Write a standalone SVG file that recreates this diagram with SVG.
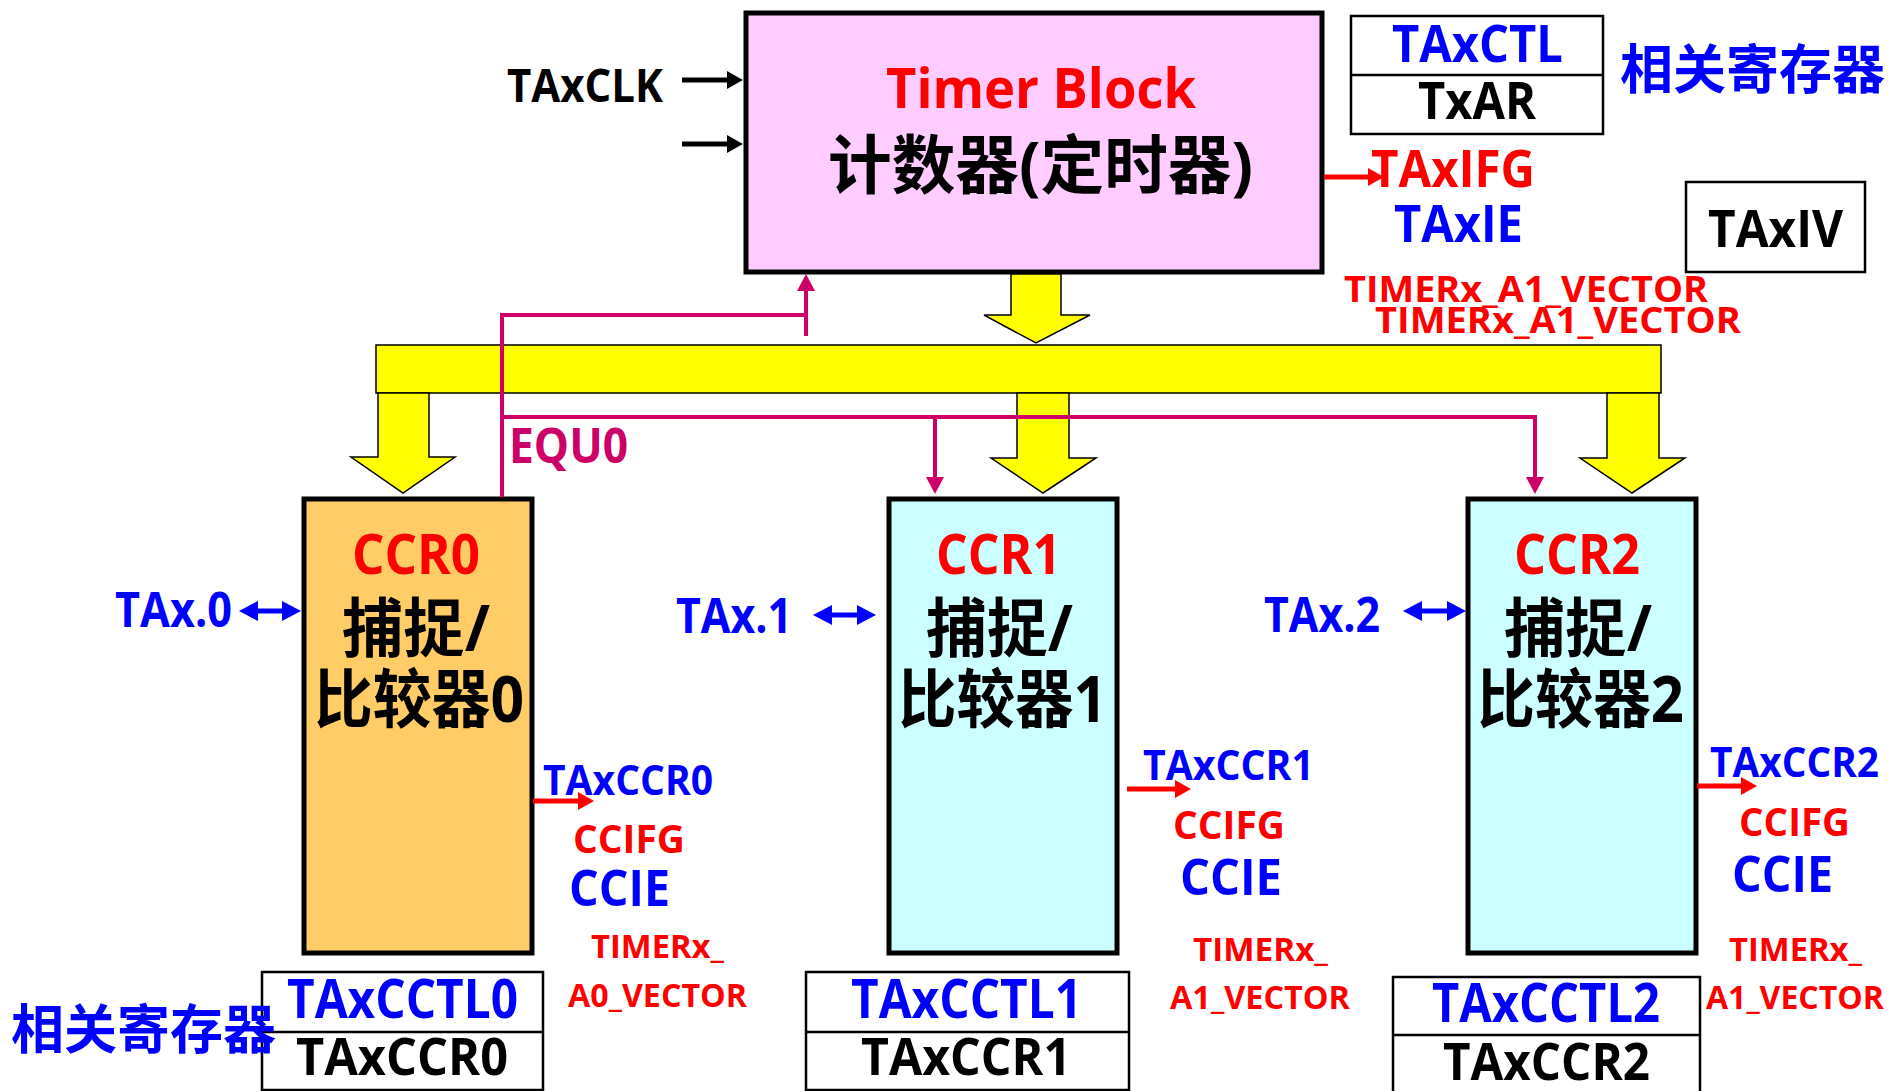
<svg xmlns="http://www.w3.org/2000/svg" width="1897" height="1091" viewBox="0 0 1897 1091">
<style>
text{font-family:"Open Sans","Noto Sans CJK SC",sans-serif;font-weight:700}
.cjk{font-family:"Noto Sans CJK SC",sans-serif}
.r{fill:#FF0000}.b{fill:#0000FF}.k{fill:#000000}.m{fill:#CC0066}
.box{stroke:#000;stroke-width:5}
.reg{fill:#fff;stroke:#000;stroke-width:2.5}
.ya{fill:#FFFF00;stroke:#000;stroke-width:1.5}
.ak{stroke:#000;stroke-width:5;fill:none}
.ar{stroke:#FF0000;stroke-width:5;fill:none}
.ab{stroke:#0000FF;stroke-width:5;fill:none}
.am{stroke:#CC0066;stroke-width:4;fill:none}
</style>
<defs>
<marker id="mk" markerUnits="userSpaceOnUse" markerWidth="16" markerHeight="18" refX="0" refY="9" orient="auto"><path d="M0,0 L16,9 L0,18 z" fill="#000"/></marker>
<marker id="mr" markerUnits="userSpaceOnUse" markerWidth="16" markerHeight="18" refX="0" refY="9" orient="auto"><path d="M0,0 L16,9 L0,18 z" fill="#FF0000"/></marker>
<marker id="mb" markerUnits="userSpaceOnUse" markerWidth="19" markerHeight="20" refX="0" refY="10" orient="auto-start-reverse"><path d="M0,0 L19,10 L0,20 z" fill="#0000FF"/></marker>
<marker id="mm" markerUnits="userSpaceOnUse" markerWidth="17" markerHeight="18" refX="0" refY="9" orient="auto"><path d="M0,0 L17,9 L0,18 z" fill="#CC0066"/></marker>
</defs>

<g id="bus">
<rect class="ya" x="376" y="345" width="1285" height="48" stroke-width="2"/>
</g>

<g id="timer-block">
<rect class="box" x="746" y="13" width="576" height="259" fill="#FFCCFF"/>
<text class="r" x="886" y="108" font-size="56" textLength="310" lengthAdjust="spacingAndGlyphs">Timer Block</text>
<text class="k" x="828" y="188" font-size="64" font-weight="500" textLength="425" lengthAdjust="spacingAndGlyphs">计数器(定时器)</text>
</g>

<g id="clk">
<text class="k" x="507" y="102" font-size="46" textLength="156" lengthAdjust="spacingAndGlyphs">TAxCLK</text>
</g>

<g id="taxctl">
<rect class="reg" x="1351" y="16" width="252" height="118"/>
<line x1="1351" y1="75" x2="1603" y2="75" stroke="#000" stroke-width="2.5"/>
<text class="b" x="1392" y="62" font-size="52" textLength="171" lengthAdjust="spacingAndGlyphs">TAxCTL</text>
<text class="k" x="1418" y="119" font-size="52" textLength="118" lengthAdjust="spacingAndGlyphs">TxAR</text>
<text class="b cjk" x="1620" y="89" font-size="53" font-weight="400" textLength="265" lengthAdjust="spacingAndGlyphs">相关寄存器</text>
</g>

<g id="taxifg">
<text class="r" x="1371" y="187" font-size="52" textLength="164" lengthAdjust="spacingAndGlyphs">TAxIFG</text>
<text class="b" x="1394" y="242" font-size="52" textLength="129" lengthAdjust="spacingAndGlyphs">TAxIE</text>
<text class="r" x="1344" y="302" font-size="36" textLength="364" lengthAdjust="spacingAndGlyphs">TIMERx_A1_VECTOR</text>
<text class="r" x="1375" y="333" font-size="36" textLength="366" lengthAdjust="spacingAndGlyphs">TIMERx_A1_VECTOR</text>
</g>

<g id="taxiv">
<rect x="1686" y="182" width="179" height="90" fill="#fff" stroke="#000" stroke-width="2.5"/>
<text class="k" x="1708" y="247" font-size="52" textLength="135" lengthAdjust="spacingAndGlyphs">TAxIV</text>
</g>

<g id="ccr0">
<rect class="box" x="304" y="499" width="228" height="454" fill="#FFCC66"/>
<text class="r" x="352" y="574" font-size="55" textLength="128" lengthAdjust="spacingAndGlyphs">CCR0</text>
<text class="k" x="342" y="651" font-size="64" font-weight="500" textLength="148" lengthAdjust="spacingAndGlyphs">捕捉/</text>
<text class="k" x="314" y="722" font-size="64" font-weight="500" textLength="210" lengthAdjust="spacingAndGlyphs">比较器0</text>
<text class="b" x="115" y="627" font-size="48" textLength="117" lengthAdjust="spacingAndGlyphs">TAx.0</text>
<text class="b" x="543" y="795" font-size="42" textLength="170" lengthAdjust="spacingAndGlyphs">TAxCCR0</text>
<text class="r" x="573" y="853" font-size="40" textLength="112" lengthAdjust="spacingAndGlyphs">CCIFG</text>
<text class="b" x="569" y="906" font-size="50" textLength="101" lengthAdjust="spacingAndGlyphs">CCIE</text>
<text class="r" x="591" y="958" font-size="32" textLength="133" lengthAdjust="spacingAndGlyphs">TIMERx_</text>
<text class="r" x="568" y="1007" font-size="32" textLength="179" lengthAdjust="spacingAndGlyphs">A0_VECTOR</text>
</g>

<g id="reg0">
<rect class="reg" x="262" y="972" width="281" height="118"/>
<line x1="262" y1="1032" x2="543" y2="1032" stroke="#000" stroke-width="2.5"/>
<text class="b" x="287" y="1018" font-size="53" textLength="231" lengthAdjust="spacingAndGlyphs">TAxCCTL0</text>
<text class="k" x="296" y="1075" font-size="52" textLength="212" lengthAdjust="spacingAndGlyphs">TAxCCR0</text>
<text class="b cjk" x="11" y="1049" font-size="53" font-weight="400" textLength="265" lengthAdjust="spacingAndGlyphs">相关寄存器</text>
</g>

<g id="ccr1">
<rect class="box" x="889" y="499" width="228" height="454" fill="#CCFFFF"/>
<text class="r" x="936" y="574" font-size="55" textLength="125" lengthAdjust="spacingAndGlyphs">CCR1</text>
<text class="k" x="926" y="651" font-size="64" font-weight="500" textLength="147" lengthAdjust="spacingAndGlyphs">捕捉/</text>
<text class="k" x="898" y="722" font-size="64" font-weight="500" textLength="209" lengthAdjust="spacingAndGlyphs">比较器1</text>
<text class="b" x="676" y="633" font-size="48" textLength="116" lengthAdjust="spacingAndGlyphs">TAx.1</text>
<text class="b" x="1143" y="780" font-size="42" textLength="171" lengthAdjust="spacingAndGlyphs">TAxCCR1</text>
<text class="r" x="1173" y="839" font-size="40" textLength="112" lengthAdjust="spacingAndGlyphs">CCIFG</text>
<text class="b" x="1180" y="895" font-size="50" textLength="102" lengthAdjust="spacingAndGlyphs">CCIE</text>
<text class="r" x="1193" y="961" font-size="32" textLength="135" lengthAdjust="spacingAndGlyphs">TIMERx_</text>
<text class="r" x="1170" y="1009" font-size="32" textLength="180" lengthAdjust="spacingAndGlyphs">A1_VECTOR</text>
</g>

<g id="reg1">
<rect class="reg" x="806" y="972" width="323" height="118"/>
<line x1="806" y1="1032" x2="1129" y2="1032" stroke="#000" stroke-width="2.5"/>
<text class="b" x="851" y="1018" font-size="53" textLength="231" lengthAdjust="spacingAndGlyphs">TAxCCTL1</text>
<text class="k" x="861" y="1075" font-size="52" textLength="210" lengthAdjust="spacingAndGlyphs">TAxCCR1</text>
</g>

<g id="ccr2">
<rect class="box" x="1468" y="499" width="228" height="454" fill="#CCFFFF"/>
<text class="r" x="1514" y="574" font-size="55" textLength="126" lengthAdjust="spacingAndGlyphs">CCR2</text>
<text class="k" x="1504" y="651" font-size="64" font-weight="500" textLength="148" lengthAdjust="spacingAndGlyphs">捕捉/</text>
<text class="k" x="1477" y="722" font-size="64" font-weight="500" textLength="207" lengthAdjust="spacingAndGlyphs">比较器2</text>
<text class="b" x="1264" y="632" font-size="48" textLength="116" lengthAdjust="spacingAndGlyphs">TAx.2</text>
<text class="b" x="1710" y="777" font-size="42" textLength="169" lengthAdjust="spacingAndGlyphs">TAxCCR2</text>
<text class="r" x="1739" y="836" font-size="40" textLength="111" lengthAdjust="spacingAndGlyphs">CCIFG</text>
<text class="b" x="1732" y="892" font-size="50" textLength="101" lengthAdjust="spacingAndGlyphs">CCIE</text>
<text class="r" x="1729" y="961" font-size="32" textLength="133" lengthAdjust="spacingAndGlyphs">TIMERx_</text>
<text class="r" x="1706" y="1009" font-size="32" textLength="178" lengthAdjust="spacingAndGlyphs">A1_VECTOR</text>
</g>

<g id="reg2">
<rect class="reg" x="1393" y="977" width="307" height="118"/>
<line x1="1393" y1="1035" x2="1700" y2="1035" stroke="#000" stroke-width="2.5"/>
<text class="b" x="1432" y="1022" font-size="53" textLength="228" lengthAdjust="spacingAndGlyphs">TAxCCTL2</text>
<text class="k" x="1443" y="1080" font-size="52" textLength="207" lengthAdjust="spacingAndGlyphs">TAxCCR2</text>
</g>

<g id="connectors">
<polygon class="ya" points="1011,274 1061,274 1061,315 1090,315 1036,343 984,315 1011,315"/>
<polygon class="ya" points="378,393 429,393 429,457 455,457 403,493 351,457 378,457"/>
<polygon class="ya" points="1017,393 1069,393 1069,458 1096,458 1043,493 991,458 1017,458"/>
<polygon class="ya" points="1607,393 1659,393 1659,458 1685,458 1632,493 1580,458 1607,458"/>
<line class="ak" x1="682" y1="80" x2="727" y2="80" marker-end="url(#mk)"/>
<line class="ak" x1="682" y1="144" x2="727" y2="144" marker-end="url(#mk)"/>
<line class="ar" x1="1324" y1="177" x2="1368" y2="177" marker-end="url(#mr)"/>
<line class="ar" x1="533" y1="801" x2="578" y2="801" marker-end="url(#mr)"/>
<line class="ar" x1="1127" y1="789" x2="1175" y2="789" marker-end="url(#mr)"/>
<line class="ar" x1="1697" y1="786" x2="1741" y2="786" marker-end="url(#mr)"/>
<line class="ab" x1="258" y1="611" x2="282" y2="611" marker-start="url(#mb)" marker-end="url(#mb)"/>
<line class="ab" x1="832" y1="615" x2="857" y2="615" marker-start="url(#mb)" marker-end="url(#mb)"/>
<line class="ab" x1="1422" y1="611" x2="1447" y2="611" marker-start="url(#mb)" marker-end="url(#mb)"/>
<path class="am" d="M502,497 V315 H808"/>
<line class="am" x1="806" y1="336" x2="806" y2="291" marker-end="url(#mm)"/>
<path class="am" d="M502,417 H1535 V477" marker-end="url(#mm)"/>
<line class="am" x1="935" y1="417" x2="935" y2="477" marker-end="url(#mm)"/>
<text class="m" x="509" y="463" font-size="48" textLength="119" lengthAdjust="spacingAndGlyphs">EQU0</text>
</g>
</svg>
